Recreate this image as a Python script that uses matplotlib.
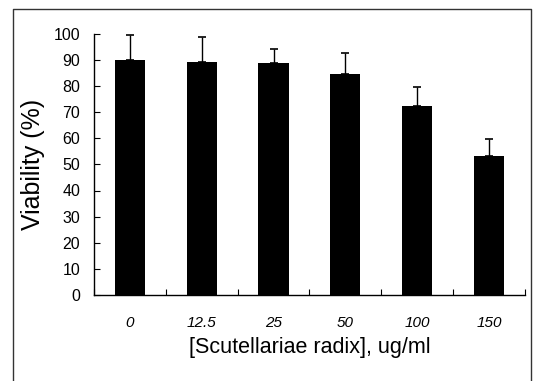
import matplotlib
matplotlib.use("Agg")
import matplotlib.pyplot as plt
from matplotlib.lines import Line2D

# data
concentrations = ["0", "12.5", "25", "50", "100", "150"]
viability = [90.0, 89.4, 88.8, 84.7, 72.4, 53.3]
error_up = [9.6, 9.6, 5.3, 7.9, 7.4, 6.6]
y_ticks = [0, 10, 20, 30, 40, 50, 60, 70, 80, 90, 100]

plt.rcParams["font.family"] = ["Liberation Sans", "DejaVu Sans"]

fig = plt.figure(figsize=(5.34, 3.81), dpi=100)
ax = fig.add_axes([0.176, 0.226, 0.807, 0.685])

x = list(range(len(concentrations)))
ax.bar(x, viability, width=0.42, color="black",
       yerr=[[0] * len(error_up), error_up],
       error_kw=dict(ecolor="black", elinewidth=1.0, capsize=3, capthick=1.2))

ax.set_xlim(-0.5, 5.5)
ax.set_ylim(0, 100)
ax.set_yticks(y_ticks)
ax.set_xticks(x)
ax.set_xticklabels(concentrations, fontstyle="italic", fontsize=11)
ax.set_xticks([i + 0.5 for i in range(-1, 6)], minor=True)
ax.tick_params(axis="x", which="major", length=0, pad=15)
ax.tick_params(axis="x", which="minor", direction="in", length=4, width=0.8)
ax.tick_params(axis="y", direction="in", length=4, width=0.8, labelsize=11.5, pad=10)

for side in ["top", "right"]:
    ax.spines[side].set_visible(False)
for side in ["left", "bottom"]:
    ax.spines[side].set_linewidth(1.0)

ax.set_ylabel("Viability (%)", fontsize=18, labelpad=6)
ax.set_xlabel("[Scutellariae radix], ug/ml", fontsize=15.5, labelpad=5)

# frame around the figure (left, top, right only)
frame = Line2D([13 / 534, 13 / 534, 531 / 534, 531 / 534],
               [0, 1 - 9 / 381, 1 - 9 / 381, 0],
               transform=fig.transFigure, color="#333333", linewidth=1.0)
fig.add_artist(frame)

fig.savefig("out.png", dpi=100)
